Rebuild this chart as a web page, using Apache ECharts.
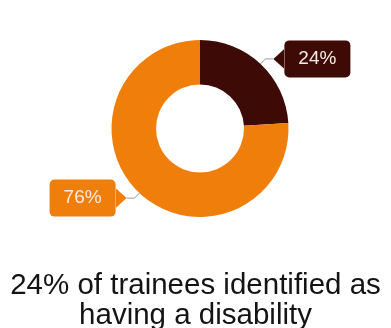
<!DOCTYPE html>
<html>
<head>
<meta charset="utf-8">
<script src="https://cdn.jsdelivr.net/npm/echarts@6/dist/echarts.min.js"></script>
<style>
  html, body { margin: 0; padding: 0; background: #ffffff; }
  #chart { width: 391px; height: 328px; }
</style>
</head>
<body>
<div id="chart"></div>
<script>
// Share of trainees by disability status
const categories = ['Identified as having a disability', 'Did not identify'];
const shares = [24, 76];
const sliceColors = ['#3e0a06', '#ef7e0a'];
const headline = '24% of trainees identified as\nhaving a disability';

// Small pointer triangle used beside each callout box
function pointer(color, dir) {
  const pts = dir === 'left' ? '11,0 0,10 11,20' : '0,0 11,10 0,20';
  const svg = '<svg xmlns="http://www.w3.org/2000/svg" width="11" height="20"><polygon points="' + pts + '" fill="' + color + '"/></svg>';
  return 'data:image/svg+xml;charset=utf-8,' + encodeURIComponent(svg);
}

function calloutLabel(i, side) {
  const box = {
    backgroundColor: sliceColors[i],
    color: '#f6ece6',
    fontSize: 19,
    fontFamily: 'Liberation Sans, Arial, sans-serif',
    padding: [9, 14, 9, 14],
    borderRadius: 5,
    lineHeight: 20
  };
  const tip = {
    width: 11,
    height: 20,
    backgroundColor: { image: pointer(sliceColors[i], side) }
  };
  return {
    show: true,
    position: 'outside',
    formatter: side === 'left' ? '{tip|}{box|{d}%}' : '{box|{d}%}{tip|}',
    rich: { box: box, tip: tip },
    distanceToLabelLine: 0
  };
}

const chart = echarts.init(document.getElementById('chart'), null, { renderer: 'canvas' });

chart.setOption({
  animation: false,
  title: {
    text: headline,
    left: 'center',
    top: 266,
    textStyle: {
      fontFamily: 'Liberation Sans, Arial, sans-serif',
      fontSize: 29.5,
      fontWeight: 'normal',
      color: '#141414',
      lineHeight: 30
    }
  },
  series: [{
    type: 'pie',
    center: [200, 128.5],
    radius: [44, 88.5],
    startAngle: 90,
    clockwise: true,
    avoidLabelOverlap: false,
    labelLine: {
      show: true,
      length: 7,
      length2: 8,
      lineStyle: { color: '#9a9a9a', width: 1 }
    },
    data: categories.map((name, i) => ({
      name: name,
      value: shares[i],
      itemStyle: { color: sliceColors[i] },
      label: calloutLabel(i, i === 0 ? 'left' : 'right')
    }))
  }]
});
</script>
</body>
</html>
